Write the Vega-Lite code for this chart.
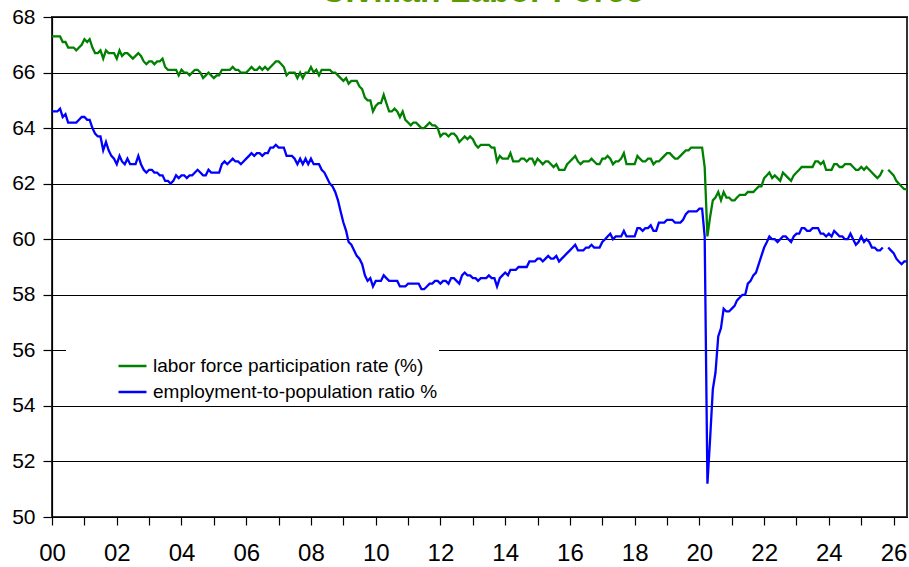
{
"$schema": "https://vega.github.io/schema/vega-lite/v6.json",
"autosize": "none",
"width": 855,
"height": 500,
"padding": {"left": 52, "top": 17, "right": 2, "bottom": 50},
"background": "white",
"title": {"text": "Civilian Labor Force", "fontSize": 33.6, "fontWeight": "bold", "color": "#5B9B00", "font": "Arial, Liberation Sans", "anchor": "middle", "baseline": "alphabetic", "offset": 0, "dy": 30, "dx": 3},
"data": {"values": [
{"d":"2000-01","lfpr":67.3,"epop":64.6},{"d":"2000-02","lfpr":67.3,"epop":64.6},{"d":"2000-03","lfpr":67.3,"epop":64.6},{"d":"2000-04","lfpr":67.3,"epop":64.7},{"d":"2000-05","lfpr":67.1,"epop":64.4},{"d":"2000-06","lfpr":67.1,"epop":64.5},{"d":"2000-07","lfpr":66.9,"epop":64.2},{"d":"2000-08","lfpr":66.9,"epop":64.2},{"d":"2000-09","lfpr":66.9,"epop":64.2},{"d":"2000-10","lfpr":66.8,"epop":64.2},{"d":"2000-11","lfpr":66.9,"epop":64.3},{"d":"2000-12","lfpr":67.0,"epop":64.4},
{"d":"2001-01","lfpr":67.2,"epop":64.4},{"d":"2001-02","lfpr":67.1,"epop":64.3},{"d":"2001-03","lfpr":67.2,"epop":64.3},{"d":"2001-04","lfpr":66.9,"epop":64.0},{"d":"2001-05","lfpr":66.7,"epop":63.8},{"d":"2001-06","lfpr":66.7,"epop":63.7},{"d":"2001-07","lfpr":66.8,"epop":63.7},{"d":"2001-08","lfpr":66.5,"epop":63.2},{"d":"2001-09","lfpr":66.8,"epop":63.5},{"d":"2001-10","lfpr":66.7,"epop":63.2},{"d":"2001-11","lfpr":66.7,"epop":63.0},{"d":"2001-12","lfpr":66.7,"epop":62.9},
{"d":"2002-01","lfpr":66.5,"epop":62.7},{"d":"2002-02","lfpr":66.8,"epop":63.0},{"d":"2002-03","lfpr":66.6,"epop":62.8},{"d":"2002-04","lfpr":66.7,"epop":62.7},{"d":"2002-05","lfpr":66.7,"epop":62.9},{"d":"2002-06","lfpr":66.6,"epop":62.7},{"d":"2002-07","lfpr":66.5,"epop":62.7},{"d":"2002-08","lfpr":66.6,"epop":62.7},{"d":"2002-09","lfpr":66.7,"epop":63.0},{"d":"2002-10","lfpr":66.6,"epop":62.7},{"d":"2002-11","lfpr":66.4,"epop":62.5},{"d":"2002-12","lfpr":66.3,"epop":62.4},
{"d":"2003-01","lfpr":66.4,"epop":62.5},{"d":"2003-02","lfpr":66.4,"epop":62.5},{"d":"2003-03","lfpr":66.3,"epop":62.4},{"d":"2003-04","lfpr":66.4,"epop":62.4},{"d":"2003-05","lfpr":66.4,"epop":62.3},{"d":"2003-06","lfpr":66.5,"epop":62.3},{"d":"2003-07","lfpr":66.2,"epop":62.1},{"d":"2003-08","lfpr":66.1,"epop":62.1},{"d":"2003-09","lfpr":66.1,"epop":62.0},{"d":"2003-10","lfpr":66.1,"epop":62.1},{"d":"2003-11","lfpr":66.1,"epop":62.3},{"d":"2003-12","lfpr":65.9,"epop":62.2},
{"d":"2004-01","lfpr":66.1,"epop":62.3},{"d":"2004-02","lfpr":66.0,"epop":62.3},{"d":"2004-03","lfpr":66.0,"epop":62.2},{"d":"2004-04","lfpr":65.9,"epop":62.3},{"d":"2004-05","lfpr":66.0,"epop":62.3},{"d":"2004-06","lfpr":66.1,"epop":62.4},{"d":"2004-07","lfpr":66.1,"epop":62.5},{"d":"2004-08","lfpr":66.0,"epop":62.4},{"d":"2004-09","lfpr":65.8,"epop":62.3},{"d":"2004-10","lfpr":65.9,"epop":62.3},{"d":"2004-11","lfpr":66.0,"epop":62.5},{"d":"2004-12","lfpr":65.9,"epop":62.4},
{"d":"2005-01","lfpr":65.8,"epop":62.4},{"d":"2005-02","lfpr":65.9,"epop":62.4},{"d":"2005-03","lfpr":65.9,"epop":62.4},{"d":"2005-04","lfpr":66.1,"epop":62.7},{"d":"2005-05","lfpr":66.1,"epop":62.8},{"d":"2005-06","lfpr":66.1,"epop":62.7},{"d":"2005-07","lfpr":66.1,"epop":62.8},{"d":"2005-08","lfpr":66.2,"epop":62.9},{"d":"2005-09","lfpr":66.1,"epop":62.8},{"d":"2005-10","lfpr":66.1,"epop":62.8},{"d":"2005-11","lfpr":66.0,"epop":62.7},{"d":"2005-12","lfpr":66.0,"epop":62.8},
{"d":"2006-01","lfpr":66.0,"epop":62.9},{"d":"2006-02","lfpr":66.1,"epop":63.0},{"d":"2006-03","lfpr":66.2,"epop":63.1},{"d":"2006-04","lfpr":66.1,"epop":63.0},{"d":"2006-05","lfpr":66.1,"epop":63.1},{"d":"2006-06","lfpr":66.2,"epop":63.1},{"d":"2006-07","lfpr":66.1,"epop":63.0},{"d":"2006-08","lfpr":66.2,"epop":63.1},{"d":"2006-09","lfpr":66.1,"epop":63.1},{"d":"2006-10","lfpr":66.2,"epop":63.3},{"d":"2006-11","lfpr":66.3,"epop":63.3},{"d":"2006-12","lfpr":66.4,"epop":63.4},
{"d":"2007-01","lfpr":66.4,"epop":63.3},{"d":"2007-02","lfpr":66.3,"epop":63.3},{"d":"2007-03","lfpr":66.2,"epop":63.3},{"d":"2007-04","lfpr":65.9,"epop":63.0},{"d":"2007-05","lfpr":66.0,"epop":63.0},{"d":"2007-06","lfpr":66.0,"epop":63.0},{"d":"2007-07","lfpr":66.0,"epop":62.9},{"d":"2007-08","lfpr":65.8,"epop":62.7},{"d":"2007-09","lfpr":66.0,"epop":62.9},{"d":"2007-10","lfpr":65.8,"epop":62.7},{"d":"2007-11","lfpr":66.0,"epop":62.9},{"d":"2007-12","lfpr":66.0,"epop":62.7},
{"d":"2008-01","lfpr":66.2,"epop":62.9},{"d":"2008-02","lfpr":66.0,"epop":62.7},{"d":"2008-03","lfpr":66.1,"epop":62.7},{"d":"2008-04","lfpr":65.9,"epop":62.7},{"d":"2008-05","lfpr":66.1,"epop":62.5},{"d":"2008-06","lfpr":66.1,"epop":62.4},{"d":"2008-07","lfpr":66.1,"epop":62.2},{"d":"2008-08","lfpr":66.1,"epop":62.0},{"d":"2008-09","lfpr":66.0,"epop":61.9},{"d":"2008-10","lfpr":66.0,"epop":61.7},{"d":"2008-11","lfpr":65.9,"epop":61.4},{"d":"2008-12","lfpr":65.8,"epop":61.0},
{"d":"2009-01","lfpr":65.7,"epop":60.6},{"d":"2009-02","lfpr":65.8,"epop":60.3},{"d":"2009-03","lfpr":65.6,"epop":59.9},{"d":"2009-04","lfpr":65.7,"epop":59.8},{"d":"2009-05","lfpr":65.7,"epop":59.6},{"d":"2009-06","lfpr":65.7,"epop":59.4},{"d":"2009-07","lfpr":65.5,"epop":59.3},{"d":"2009-08","lfpr":65.4,"epop":59.1},{"d":"2009-09","lfpr":65.1,"epop":58.7},{"d":"2009-10","lfpr":65.0,"epop":58.5},{"d":"2009-11","lfpr":65.0,"epop":58.6},{"d":"2009-12","lfpr":64.6,"epop":58.3},
{"d":"2010-01","lfpr":64.8,"epop":58.5},{"d":"2010-02","lfpr":64.9,"epop":58.5},{"d":"2010-03","lfpr":64.9,"epop":58.5},{"d":"2010-04","lfpr":65.2,"epop":58.7},{"d":"2010-05","lfpr":64.9,"epop":58.6},{"d":"2010-06","lfpr":64.6,"epop":58.5},{"d":"2010-07","lfpr":64.6,"epop":58.5},{"d":"2010-08","lfpr":64.7,"epop":58.5},{"d":"2010-09","lfpr":64.6,"epop":58.5},{"d":"2010-10","lfpr":64.4,"epop":58.3},{"d":"2010-11","lfpr":64.6,"epop":58.3},{"d":"2010-12","lfpr":64.3,"epop":58.3},
{"d":"2011-01","lfpr":64.2,"epop":58.4},{"d":"2011-02","lfpr":64.1,"epop":58.4},{"d":"2011-03","lfpr":64.2,"epop":58.4},{"d":"2011-04","lfpr":64.2,"epop":58.4},{"d":"2011-05","lfpr":64.1,"epop":58.4},{"d":"2011-06","lfpr":64.0,"epop":58.2},{"d":"2011-07","lfpr":64.0,"epop":58.2},{"d":"2011-08","lfpr":64.1,"epop":58.3},{"d":"2011-09","lfpr":64.2,"epop":58.4},{"d":"2011-10","lfpr":64.1,"epop":58.4},{"d":"2011-11","lfpr":64.1,"epop":58.5},{"d":"2011-12","lfpr":64.0,"epop":58.5},
{"d":"2012-01","lfpr":63.7,"epop":58.4},{"d":"2012-02","lfpr":63.8,"epop":58.5},{"d":"2012-03","lfpr":63.8,"epop":58.5},{"d":"2012-04","lfpr":63.7,"epop":58.4},{"d":"2012-05","lfpr":63.8,"epop":58.6},{"d":"2012-06","lfpr":63.8,"epop":58.6},{"d":"2012-07","lfpr":63.7,"epop":58.5},{"d":"2012-08","lfpr":63.5,"epop":58.4},{"d":"2012-09","lfpr":63.6,"epop":58.7},{"d":"2012-10","lfpr":63.7,"epop":58.8},{"d":"2012-11","lfpr":63.6,"epop":58.7},{"d":"2012-12","lfpr":63.7,"epop":58.7},
{"d":"2013-01","lfpr":63.6,"epop":58.6},{"d":"2013-02","lfpr":63.4,"epop":58.6},{"d":"2013-03","lfpr":63.3,"epop":58.5},{"d":"2013-04","lfpr":63.4,"epop":58.6},{"d":"2013-05","lfpr":63.4,"epop":58.6},{"d":"2013-06","lfpr":63.4,"epop":58.6},{"d":"2013-07","lfpr":63.4,"epop":58.7},{"d":"2013-08","lfpr":63.3,"epop":58.6},{"d":"2013-09","lfpr":63.3,"epop":58.6},{"d":"2013-10","lfpr":62.8,"epop":58.3},{"d":"2013-11","lfpr":63.0,"epop":58.6},{"d":"2013-12","lfpr":62.9,"epop":58.7},
{"d":"2014-01","lfpr":62.9,"epop":58.8},{"d":"2014-02","lfpr":62.9,"epop":58.7},{"d":"2014-03","lfpr":63.1,"epop":58.9},{"d":"2014-04","lfpr":62.8,"epop":58.9},{"d":"2014-05","lfpr":62.8,"epop":58.9},{"d":"2014-06","lfpr":62.8,"epop":59.0},{"d":"2014-07","lfpr":62.9,"epop":59.0},{"d":"2014-08","lfpr":62.9,"epop":59.0},{"d":"2014-09","lfpr":62.8,"epop":59.0},{"d":"2014-10","lfpr":62.9,"epop":59.2},{"d":"2014-11","lfpr":62.9,"epop":59.2},{"d":"2014-12","lfpr":62.7,"epop":59.2},
{"d":"2015-01","lfpr":62.9,"epop":59.3},{"d":"2015-02","lfpr":62.8,"epop":59.3},{"d":"2015-03","lfpr":62.7,"epop":59.2},{"d":"2015-04","lfpr":62.8,"epop":59.3},{"d":"2015-05","lfpr":62.8,"epop":59.4},{"d":"2015-06","lfpr":62.7,"epop":59.3},{"d":"2015-07","lfpr":62.6,"epop":59.3},{"d":"2015-08","lfpr":62.7,"epop":59.4},{"d":"2015-09","lfpr":62.5,"epop":59.2},{"d":"2015-10","lfpr":62.5,"epop":59.3},{"d":"2015-11","lfpr":62.5,"epop":59.4},{"d":"2015-12","lfpr":62.7,"epop":59.5},
{"d":"2016-01","lfpr":62.8,"epop":59.6},{"d":"2016-02","lfpr":62.9,"epop":59.7},{"d":"2016-03","lfpr":63.0,"epop":59.8},{"d":"2016-04","lfpr":62.8,"epop":59.6},{"d":"2016-05","lfpr":62.7,"epop":59.6},{"d":"2016-06","lfpr":62.8,"epop":59.6},{"d":"2016-07","lfpr":62.8,"epop":59.7},{"d":"2016-08","lfpr":62.8,"epop":59.7},{"d":"2016-09","lfpr":62.9,"epop":59.8},{"d":"2016-10","lfpr":62.8,"epop":59.7},{"d":"2016-11","lfpr":62.7,"epop":59.7},{"d":"2016-12","lfpr":62.7,"epop":59.7},
{"d":"2017-01","lfpr":62.9,"epop":59.9},{"d":"2017-02","lfpr":62.9,"epop":60.0},{"d":"2017-03","lfpr":63.0,"epop":60.1},{"d":"2017-04","lfpr":62.9,"epop":60.2},{"d":"2017-05","lfpr":62.7,"epop":60.0},{"d":"2017-06","lfpr":62.8,"epop":60.1},{"d":"2017-07","lfpr":62.8,"epop":60.1},{"d":"2017-08","lfpr":62.9,"epop":60.1},{"d":"2017-09","lfpr":63.1,"epop":60.3},{"d":"2017-10","lfpr":62.7,"epop":60.1},{"d":"2017-11","lfpr":62.7,"epop":60.1},{"d":"2017-12","lfpr":62.7,"epop":60.1},
{"d":"2018-01","lfpr":62.7,"epop":60.1},{"d":"2018-02","lfpr":63.0,"epop":60.4},{"d":"2018-03","lfpr":62.9,"epop":60.4},{"d":"2018-04","lfpr":62.8,"epop":60.3},{"d":"2018-05","lfpr":62.8,"epop":60.4},{"d":"2018-06","lfpr":62.9,"epop":60.4},{"d":"2018-07","lfpr":62.9,"epop":60.5},{"d":"2018-08","lfpr":62.7,"epop":60.3},{"d":"2018-09","lfpr":62.8,"epop":60.3},{"d":"2018-10","lfpr":62.8,"epop":60.6},{"d":"2018-11","lfpr":62.9,"epop":60.6},{"d":"2018-12","lfpr":63.0,"epop":60.6},
{"d":"2019-01","lfpr":63.1,"epop":60.7},{"d":"2019-02","lfpr":63.1,"epop":60.7},{"d":"2019-03","lfpr":63.0,"epop":60.7},{"d":"2019-04","lfpr":62.9,"epop":60.6},{"d":"2019-05","lfpr":62.9,"epop":60.6},{"d":"2019-06","lfpr":63.0,"epop":60.6},{"d":"2019-07","lfpr":63.1,"epop":60.7},{"d":"2019-08","lfpr":63.2,"epop":60.9},{"d":"2019-09","lfpr":63.2,"epop":61.0},{"d":"2019-10","lfpr":63.3,"epop":61.0},{"d":"2019-11","lfpr":63.3,"epop":61.0},{"d":"2019-12","lfpr":63.3,"epop":61.0},
{"d":"2020-01","lfpr":63.3,"epop":61.1},{"d":"2020-02","lfpr":63.3,"epop":61.1},{"d":"2020-03","lfpr":62.6,"epop":60.1},{"d":"2020-04","lfpr":60.1,"epop":51.2},{"d":"2020-05","lfpr":60.8,"epop":52.8},{"d":"2020-06","lfpr":61.4,"epop":54.6},{"d":"2020-07","lfpr":61.5,"epop":55.2},{"d":"2020-08","lfpr":61.7,"epop":56.5},{"d":"2020-09","lfpr":61.4,"epop":56.8},{"d":"2020-10","lfpr":61.7,"epop":57.5},{"d":"2020-11","lfpr":61.5,"epop":57.4},{"d":"2020-12","lfpr":61.5,"epop":57.4},
{"d":"2021-01","lfpr":61.4,"epop":57.5},{"d":"2021-02","lfpr":61.4,"epop":57.6},{"d":"2021-03","lfpr":61.5,"epop":57.8},{"d":"2021-04","lfpr":61.6,"epop":57.9},{"d":"2021-05","lfpr":61.6,"epop":58.0},{"d":"2021-06","lfpr":61.6,"epop":58.0},{"d":"2021-07","lfpr":61.7,"epop":58.4},{"d":"2021-08","lfpr":61.7,"epop":58.5},{"d":"2021-09","lfpr":61.7,"epop":58.7},{"d":"2021-10","lfpr":61.8,"epop":58.8},{"d":"2021-11","lfpr":61.9,"epop":59.1},{"d":"2021-12","lfpr":61.9,"epop":59.4},
{"d":"2022-01","lfpr":62.2,"epop":59.7},{"d":"2022-02","lfpr":62.3,"epop":59.9},{"d":"2022-03","lfpr":62.4,"epop":60.1},{"d":"2022-04","lfpr":62.2,"epop":60.0},{"d":"2022-05","lfpr":62.3,"epop":60.0},{"d":"2022-06","lfpr":62.2,"epop":59.9},{"d":"2022-07","lfpr":62.1,"epop":60.0},{"d":"2022-08","lfpr":62.4,"epop":60.1},{"d":"2022-09","lfpr":62.3,"epop":60.1},{"d":"2022-10","lfpr":62.2,"epop":60.0},{"d":"2022-11","lfpr":62.1,"epop":59.9},{"d":"2022-12","lfpr":62.3,"epop":60.1},
{"d":"2023-01","lfpr":62.4,"epop":60.2},{"d":"2023-02","lfpr":62.5,"epop":60.2},{"d":"2023-03","lfpr":62.6,"epop":60.4},{"d":"2023-04","lfpr":62.6,"epop":60.4},{"d":"2023-05","lfpr":62.6,"epop":60.3},{"d":"2023-06","lfpr":62.6,"epop":60.3},{"d":"2023-07","lfpr":62.6,"epop":60.4},{"d":"2023-08","lfpr":62.8,"epop":60.4},{"d":"2023-09","lfpr":62.8,"epop":60.4},{"d":"2023-10","lfpr":62.7,"epop":60.2},{"d":"2023-11","lfpr":62.8,"epop":60.2},{"d":"2023-12","lfpr":62.5,"epop":60.1},
{"d":"2024-01","lfpr":62.5,"epop":60.2},{"d":"2024-02","lfpr":62.5,"epop":60.1},{"d":"2024-03","lfpr":62.7,"epop":60.3},{"d":"2024-04","lfpr":62.7,"epop":60.2},{"d":"2024-05","lfpr":62.6,"epop":60.1},{"d":"2024-06","lfpr":62.6,"epop":60.1},{"d":"2024-07","lfpr":62.7,"epop":60.0},{"d":"2024-08","lfpr":62.7,"epop":60.0},{"d":"2024-09","lfpr":62.7,"epop":60.2},{"d":"2024-10","lfpr":62.6,"epop":60.0},{"d":"2024-11","lfpr":62.5,"epop":59.8},{"d":"2024-12","lfpr":62.5,"epop":59.9},
{"d":"2025-01","lfpr":62.6,"epop":60.1},{"d":"2025-02","lfpr":62.5,"epop":59.9},{"d":"2025-03","lfpr":62.6,"epop":60.0},{"d":"2025-04","lfpr":62.5,"epop":59.9},{"d":"2025-05","lfpr":62.4,"epop":59.7},{"d":"2025-06","lfpr":62.3,"epop":59.7},{"d":"2025-07","lfpr":62.2,"epop":59.6},{"d":"2025-08","lfpr":62.3,"epop":59.6},{"d":"2025-09","lfpr":62.5,"epop":59.7},{"d":"2025-10","lfpr":null,"epop":null},{"d":"2025-11","lfpr":62.5,"epop":59.7},{"d":"2025-12","lfpr":62.4,"epop":59.6},
{"d":"2026-01","lfpr":62.3,"epop":59.5},{"d":"2026-02","lfpr":62.1,"epop":59.3},{"d":"2026-03","lfpr":62.0,"epop":59.2},{"d":"2026-04","lfpr":61.9,"epop":59.1},{"d":"2026-05","lfpr":61.8,"epop":59.2},{"d":"2026-06","lfpr":61.8,"epop":59.2}
]},
"transform": [{"fold": ["lfpr", "epop"], "as": ["series", "value"]}],
"mark": {"type": "line", "strokeWidth": 2.3, "invalid": "break-paths-show-domains", "clip": true},
"encoding": {
  "x": {"field": "d", "type": "temporal",
    "scale": {"type": "utc", "domain": [{"year": 2000, "month": 1, "date": 1, "utc": true}, {"year": 2026, "month": 6, "date": 1, "utc": true}]},
    "axis": {"title": null, "grid": false,
      "values": [{"year":2000,"utc":true},{"year":2001,"utc":true},{"year":2002,"utc":true},{"year":2003,"utc":true},{"year":2004,"utc":true},{"year":2005,"utc":true},{"year":2006,"utc":true},{"year":2007,"utc":true},{"year":2008,"utc":true},{"year":2009,"utc":true},{"year":2010,"utc":true},{"year":2011,"utc":true},{"year":2012,"utc":true},{"year":2013,"utc":true},{"year":2014,"utc":true},{"year":2015,"utc":true},{"year":2016,"utc":true},{"year":2017,"utc":true},{"year":2018,"utc":true},{"year":2019,"utc":true},{"year":2020,"utc":true},{"year":2021,"utc":true},{"year":2022,"utc":true},{"year":2023,"utc":true},{"year":2024,"utc":true},{"year":2025,"utc":true},{"year":2026,"utc":true}],
      "labelExpr": "utcyear(datum.value) % 2 == 0 ? utcFormat(datum.value, '%y') : ''",
      "labelFontSize": 24, "labelPadding": 16, "tickSize": 8, "labelFlush": false, "labelOverlap": false}},
  "y": {"field": "value", "type": "quantitative",
    "scale": {"domain": [50, 68], "nice": false, "zero": false},
    "axis": {"title": null, "grid": true, "values": [50,52,54,56,58,60,62,64,66,68],
      "labelFontSize": 21, "labelPadding": 8, "tickSize": 9}},
  "color": {"field": "series", "type": "nominal",
    "scale": {"domain": ["lfpr", "epop"], "range": ["#008000", "#0000FF"]},
    "legend": {"title": null, "orient": "none", "legendX": 14, "legendY": 332.5, "direction": "vertical",
      "symbolType": "stroke", "symbolSize": 784, "symbolStrokeWidth": 2.5,
      "labelExpr": "datum.label == 'lfpr' ? 'labor force participation rate (%)' : 'employment-to-population ratio %'",
      "labelFontSize": 19, "labelColor": "#000", "labelLimit": 500, "labelOffset": 5,
      "fillColor": "white", "padding": 1, "symbolOffset": 50, "rowPadding": -8}}
},
"config": {
  "font": "Arial, Liberation Sans",
  "view": {"stroke": "#333", "strokeWidth": 2},
  "axis": {"labelColor": "#000", "labelFont": "Arial, Liberation Sans", "tickColor": "#000", "domainColor": "#000", "domainWidth": 1.2, "tickWidth": 1.2, "gridColor": "#000", "gridOpacity": 1, "gridWidth": 1},
  "legend": {"labelFont": "Arial, Liberation Sans"}
}
}
